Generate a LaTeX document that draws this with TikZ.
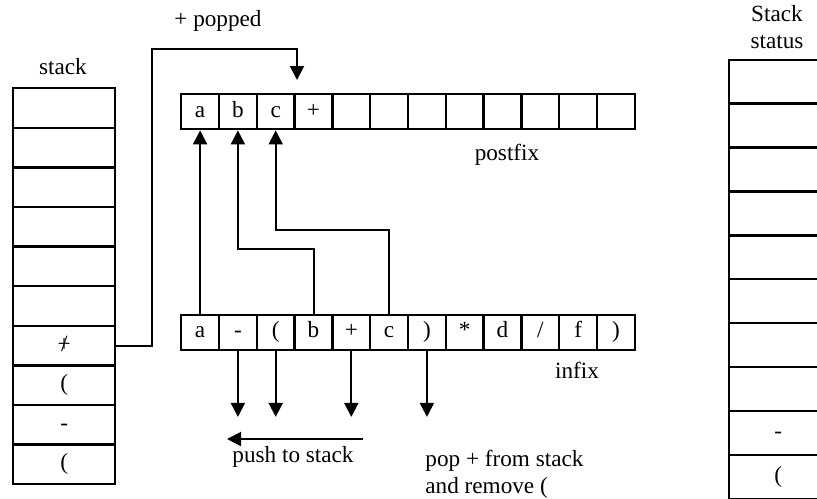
\documentclass[tikz,border=0pt]{standalone}
\usepackage{fontspec}
\setmainfont{Liberation Serif}
\usetikzlibrary{arrows.meta,calc}
\begin{document}
\begin{tikzpicture}[x=0.5pt,y=-0.5pt,
  every node/.style={font=\fontsize{11.6}{13.5}\selectfont},
  cell/.style={draw,line width=1.2pt,minimum width=18.9pt,minimum height=17.5pt,inner sep=0pt,anchor=north west,text height=8pt,text depth=2.5pt},
  stk/.style={draw,line width=1.2pt,minimum width=51pt,minimum height=19.8pt,inner sep=0pt,anchor=north west,text height=8pt,text depth=2.5pt},
  rstk/.style={draw,line width=1.2pt,minimum width=49pt,minimum height=21.95pt,inner sep=0pt,anchor=north west,text height=8pt,text depth=2.5pt},
  conn/.style={line width=1pt},
  arr/.style={conn,-{Triangle[length=7pt,width=7pt]}},
  lbl/.style={inner sep=0pt}]
\useasboundingbox (0,0) rectangle (817,498);
% left stack
\foreach \i/\t in {1/,2/,3/,4/,5/,6/,7/{\ooalign{\hfil+\hfil\cr\hfil/\hfil}},8/(,9/-,10/(}{
  \node[stk] (s\i) at (12,{87+(\i-1)*39.6}) {\t};
}
\node[lbl] (stacklbl) at (63,67) {stack};
% postfix row
\foreach \i/\t in {1/a,2/b,3/c,4/+,5/,6/,7/,8/,9/,10/,11/,12/}{
  \node[cell] (p\i) at ({180+(\i-1)*37.8},93) {\t};
}
\node[lbl] (postlbl) at (507,155) {postfix};
% infix row
\foreach \i/\t in {1/a,2/-,3/(,4/b,5/+,6/c,7/),8/*,9/d,10/{/},11/f,12/)}{
  \node[cell] (n\i) at ({180+(\i-1)*37.8},313.5) {\t};
}
\node[lbl] (inlbl) at (577,370) {infix};
% right stack
\begin{scope}
\clip (700,50) rectangle (817,498);
\foreach \i/\t in {1/,2/,3/,4/,5/,6/,7/,8/,9/-,10/(}{
  \node[rstk] (r\i) at (728,{58.5+(\i-1)*43.9}) {\t};
}
\end{scope}
\node[lbl,align=center] (statlbl) at (777,27) {Stack\\status};
% popped connector
\coordinate (top1) at (152,49);
\coordinate (tip1) at (297,80);
\draw[arr] (s7.east) -| (top1) -| (tip1);
\node[lbl] (poplbl) at (218,21) {+ popped};
% up arrows
\draw[arr] (n1.north) -- (p1.south);
\draw[arr] (n4.north) -- (n4.north |- 0,248.5) -| (p2.south);
\draw[arr] (n6.north) -- (n6.north |- 0,229.5) -| (p3.south);
% down arrows
\foreach \i in {2,3,5,7}{
  \draw[arr] (n\i.south) -- ++(0,66);
}
% push arrow
\coordinate (pushA) at (363,439);
\coordinate (pushB) at (227,439);
\draw[arr] (pushA) -- (pushB);
\node[lbl] (pushlbl) at (293,457) {push to stack};
\node[lbl,anchor=west,align=left] (poptxt) at (425,474) {pop + from stack\\and remove (};
\end{tikzpicture}
\end{document}
